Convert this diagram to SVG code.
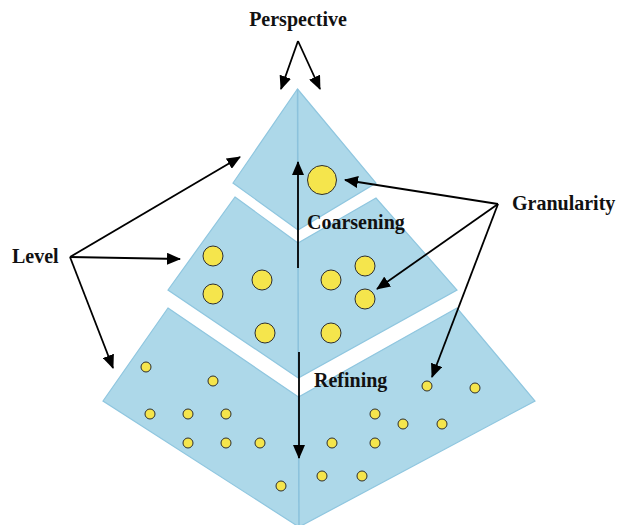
<svg xmlns="http://www.w3.org/2000/svg" width="623" height="525" viewBox="0 0 623 525">
  <style>
    .band { fill: #add8e9; stroke: #8fc6df; stroke-width: 1.2; stroke-linejoin: miter; }
    .axis { stroke: #8cc2dc; stroke-width: 1.6; }
    .dot { fill: #f5e54c; stroke: #2e2e2e; stroke-width: 1; }
    .lbl { font-family: "Liberation Serif", "Times New Roman", serif; font-weight: bold; font-size: 20px; fill: #111; }
    .arr { stroke: #000; stroke-width: 1.8; fill: none; marker-end: url(#ah); }
  </style>
  <defs>
    <marker id="ah" markerUnits="userSpaceOnUse" markerWidth="14" markerHeight="12" refX="13" refY="6" orient="auto">
      <path d="M0,0 L14,6 L0,12 Z" fill="#000"/>
    </marker>
  </defs>

  <rect width="623" height="525" fill="#fff"/>

  <!-- top level: coarse -->
  <g id="level-top">
    <polygon class="band" points="297.5,89 376,183 298,230 233,183"/>
    <line class="axis" x1="297.6" y1="89" x2="297.9" y2="230"/>
    <circle class="dot" cx="322" cy="180" r="14.5"/>
  </g>

  <!-- middle level -->
  <g id="level-middle">
    <polygon class="band" points="235,197 298,243 376,198 457,290 298.3,378 168,290"/>
    <line class="axis" x1="298" y1="243" x2="298.3" y2="378"/>
    <circle class="dot" cx="213" cy="256" r="10"/>
    <circle class="dot" cx="213" cy="294" r="10"/>
    <circle class="dot" cx="262" cy="280" r="10"/>
    <circle class="dot" cx="265" cy="333" r="10"/>
    <circle class="dot" cx="331" cy="280" r="10"/>
    <circle class="dot" cx="331" cy="333" r="10"/>
    <circle class="dot" cx="365" cy="266" r="10"/>
    <circle class="dot" cx="365" cy="299" r="10"/>
  </g>

  <!-- bottom level: fine -->
  <g id="level-bottom">
    <polygon class="band" points="168,308 298.5,397 457,308 535,401 299,527 103,401"/>
    <line class="axis" x1="298.5" y1="397" x2="299" y2="527"/>
    <circle class="dot" cx="146" cy="367" r="5"/>
    <circle class="dot" cx="213" cy="381" r="5"/>
    <circle class="dot" cx="150" cy="414" r="5"/>
    <circle class="dot" cx="188" cy="414" r="5"/>
    <circle class="dot" cx="226" cy="414" r="5"/>
    <circle class="dot" cx="188" cy="443" r="5"/>
    <circle class="dot" cx="226" cy="443" r="5"/>
    <circle class="dot" cx="260" cy="443" r="5"/>
    <circle class="dot" cx="281" cy="486" r="5"/>
    <circle class="dot" cx="322" cy="476" r="5"/>
    <circle class="dot" cx="362" cy="476" r="5"/>
    <circle class="dot" cx="332" cy="443" r="5"/>
    <circle class="dot" cx="375" cy="443" r="5"/>
    <circle class="dot" cx="375" cy="414" r="5"/>
    <circle class="dot" cx="403" cy="424" r="5"/>
    <circle class="dot" cx="442" cy="424" r="5"/>
    <circle class="dot" cx="427" cy="386" r="5"/>
    <circle class="dot" cx="475" cy="388" r="5"/>
  </g>

  <!-- labels -->
  <g id="labels">
    <text class="lbl" x="298" y="26" text-anchor="middle">Perspective</text>
    <text class="lbl" x="12" y="263">Level</text>
    <text class="lbl" x="512" y="210">Granularity</text>
    <text class="lbl" x="307" y="229">Coarsening</text>
    <text class="lbl" x="314" y="387">Refining</text>
  </g>

  <!-- connectors -->
  <g id="connectors">
    <path class="arr" d="M298,41 L281,89"/>
    <path class="arr" d="M298,41 L320,89"/>
    <path class="arr" d="M70,257 L240,157"/>
    <path class="arr" d="M70,257 L180,259"/>
    <path class="arr" d="M70,257 L113,368"/>
    <path class="arr" d="M498,204 L345,180"/>
    <path class="arr" d="M498,204 L377,289"/>
    <path class="arr" d="M498,204 L432,377"/>
    <path class="arr" d="M298,268 L298,162"/>
    <path class="arr" d="M299,352 L299,458"/>
  </g>
</svg>
